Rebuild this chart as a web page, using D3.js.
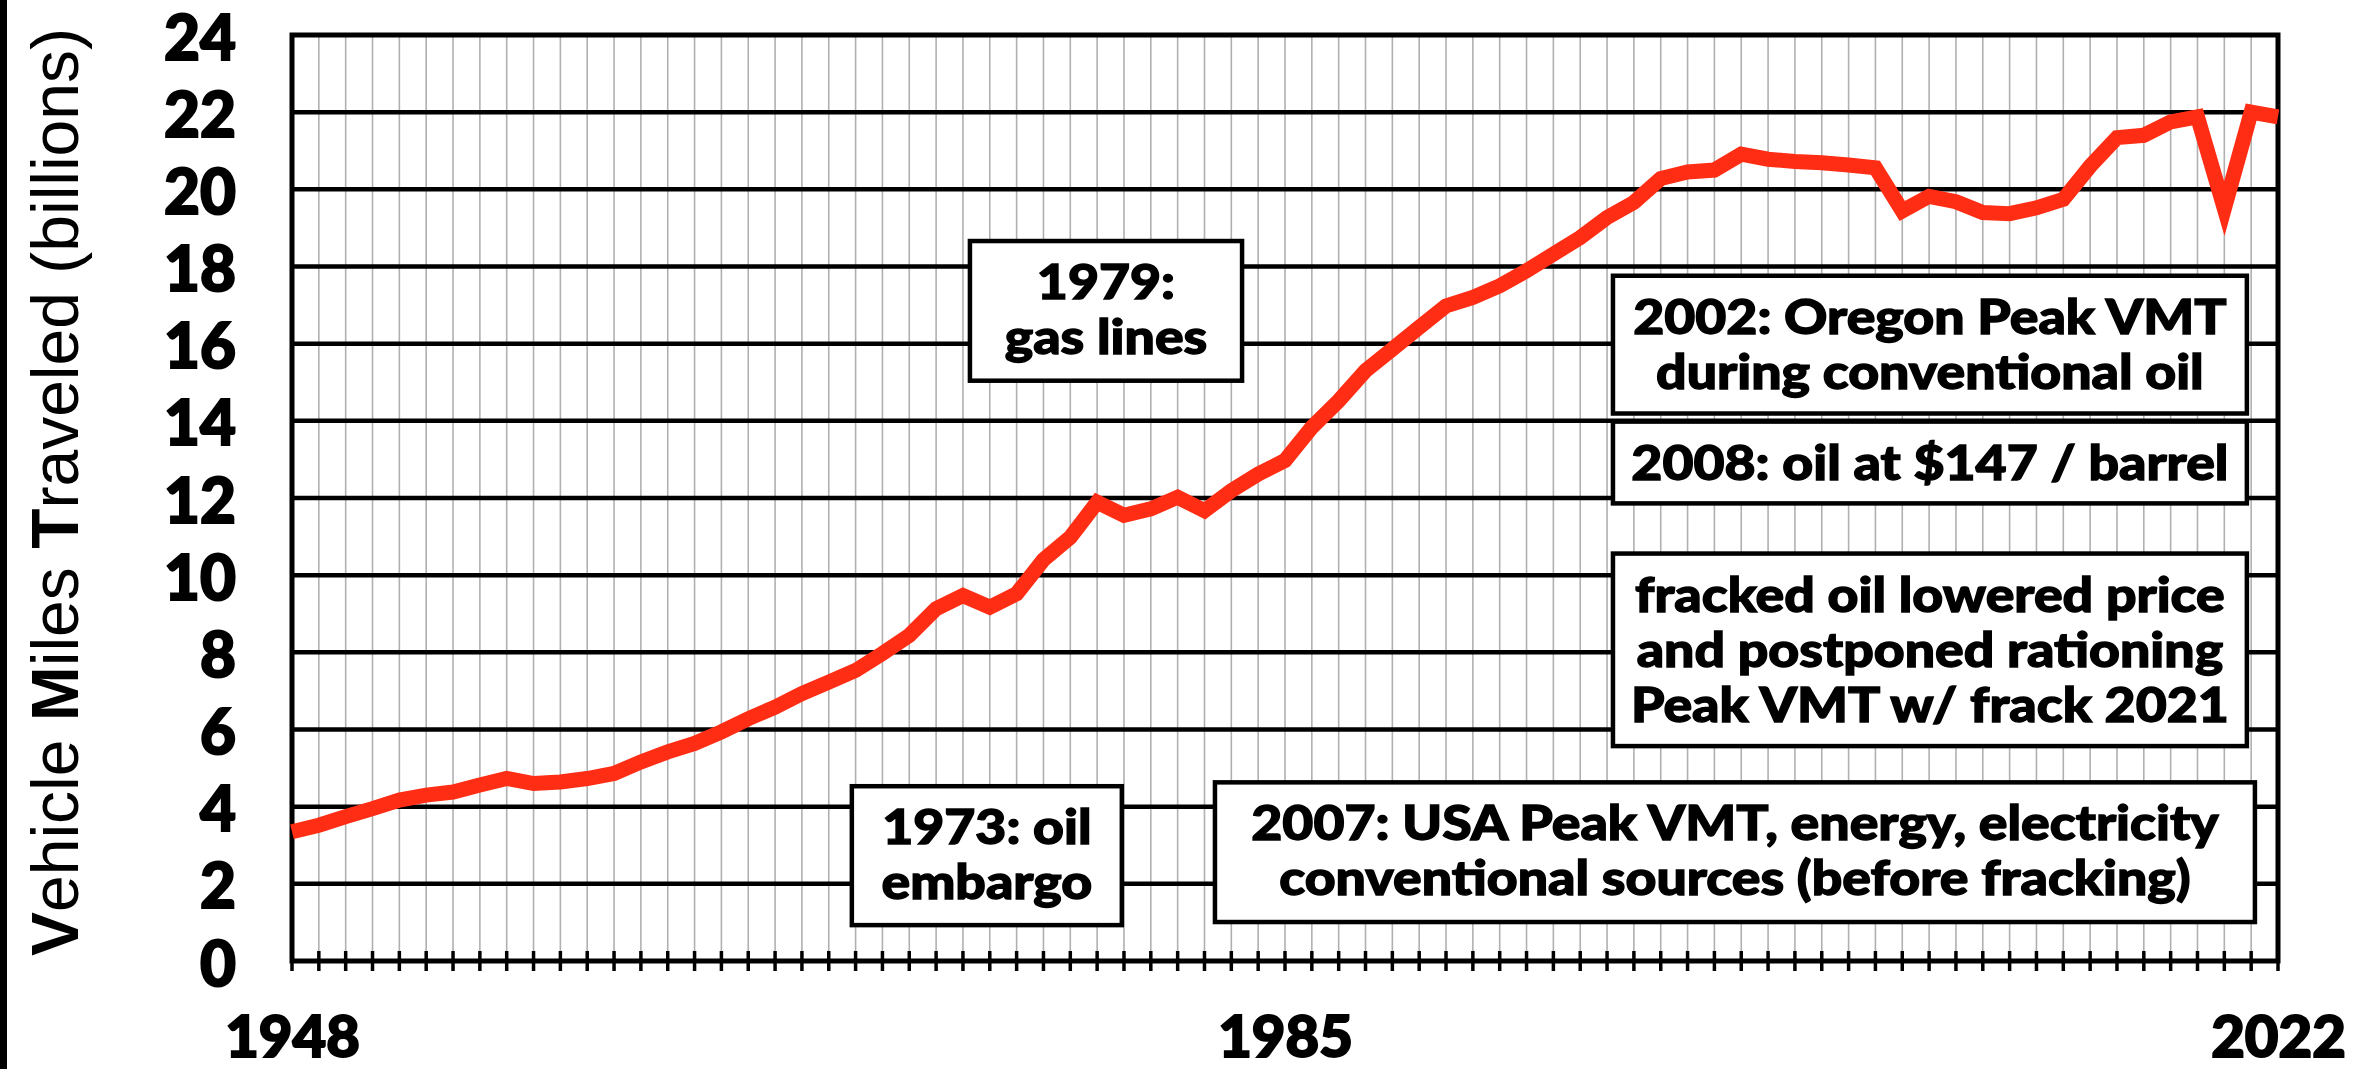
<!DOCTYPE html>
<html>
<head>
<meta charset="utf-8">
<script src="https://cdn.jsdelivr.net/npm/d3@7"></script>
<style>
  body { margin: 0; background: #fff; }
  svg { display: block; }
  .tick-label { font-family: Lato, "Open Sans", sans-serif; font-weight: 900; fill: #000; stroke: #000; stroke-width: 2px; }
  .note-text { font-family: Lato, "Open Sans", sans-serif; font-weight: 900; font-size: 47px; fill: #000; stroke: #000; stroke-width: 1.3px; }
  .y-title { font-family: "Liberation Sans", Arial, sans-serif; font-size: 66px; fill: #000; }
</style>
</head>
<body>
<div id="chart"></div>
<script>
// Oregon VMT in billions, one value per year 1948..2022
var years = d3.range(1948, 2023);
var vmt = [3.35, 3.52, 3.74, 3.95, 4.17, 4.30, 4.38, 4.56, 4.73, 4.60,
           4.64, 4.73, 4.86, 5.16, 5.42, 5.64, 5.94, 6.28, 6.58, 6.93,
           7.23, 7.53, 7.97, 8.44, 9.13, 9.47, 9.17, 9.52, 10.40, 10.98,
           11.89, 11.55, 11.72, 12.02, 11.67, 12.19, 12.62, 12.97, 13.83, 14.52,
           15.30, 15.86, 16.42, 16.98, 17.20, 17.50, 17.89, 18.32, 18.75, 19.27,
           19.66, 20.28, 20.45, 20.50, 20.91, 20.78, 20.72, 20.69, 20.63, 20.56,
           19.44, 19.82, 19.68, 19.40, 19.37, 19.52, 19.74, 20.60, 21.34, 21.40,
           21.75, 21.88, 19.50, 22.00, 21.88];

var yTicks = [0, 2, 4, 6, 8, 10, 12, 14, 16, 18, 20, 22, 24];
var xLabels = [1948, 1985, 2022];

var noteLines = [
  ["1979:", "gas lines"],
  ["2002: Oregon Peak VMT", "during conventional oil"],
  ["2008: oil at $147 / barrel"],
  ["fracked oil lowered price", "and postponed rationing", "Peak VMT w/ frack 2021"],
  ["1973: oil", "embargo"],
  ["2007: USA Peak VMT, energy, electricity", "conventional sources (before fracking)"]
];
// box extents in data units: [year0, year1, valueTop, valueBottom]
var noteBoxes = [
  [1973.26, 1983.40, 18.66, 15.04],
  [1997.22, 2020.84, 17.76, 14.19],
  [1997.22, 2020.84, 13.98, 11.86],
  [1997.22, 2020.84, 10.56, 5.57],
  [1968.86, 1978.92, 4.53, 0.93],
  [1982.39, 2021.14, 4.63, 1.01]
];

var margin = {top: 35, right: 78, bottom: 108, left: 292};
var width = 2356 - margin.left - margin.right;
var height = 1069 - margin.top - margin.bottom;

var svg = d3.select("#chart").append("svg")
  .attr("width", 2356)
  .attr("height", 1069);

// black strip at the left edge
svg.append("rect").attr("x", 0).attr("y", 0).attr("width", 7).attr("height", 1069).attr("fill", "#000");

var g = svg.append("g")
  .attr("transform", "translate(" + margin.left + "," + margin.top + ")");

var x = d3.scaleLinear().domain([1948, 2022]).range([0, width]);
var y = d3.scaleLinear().domain([0, 24]).range([height, 0]);

// yearly grey verticals
g.append("g").selectAll("line")
  .data(years.slice(1, -1))
  .join("line")
  .attr("x1", d => x(d)).attr("x2", d => x(d))
  .attr("y1", 0).attr("y2", height)
  .attr("stroke", "#b0b0b0")
  .attr("stroke-width", 1.6);

// black horizontals
g.append("g").selectAll("line")
  .data(yTicks.slice(1, -1))
  .join("line")
  .attr("x1", 0).attr("x2", width)
  .attr("y1", d => y(d)).attr("y2", d => y(d))
  .attr("stroke", "#000")
  .attr("stroke-width", 4.5);

// year ticks crossing the bottom axis
g.append("g").selectAll("line")
  .data(years)
  .join("line")
  .attr("x1", d => x(d)).attr("x2", d => x(d))
  .attr("y1", height - 10).attr("y2", height + 10)
  .attr("stroke", "#000")
  .attr("stroke-width", 3.5);

// frame
g.append("rect")
  .attr("x", 0).attr("y", 0)
  .attr("width", width).attr("height", height)
  .attr("fill", "none")
  .attr("stroke", "#000")
  .attr("stroke-width", 5);

// the series
var line = d3.line()
  .x((d, i) => x(years[i]))
  .y(d => y(d));

g.append("path")
  .datum(vmt)
  .attr("d", line)
  .attr("fill", "none")
  .attr("stroke", "#ff2d14")
  .attr("stroke-width", 15)
  .attr("stroke-linejoin", "miter")
  .attr("stroke-miterlimit", 10);

// annotation boxes
noteBoxes.forEach(function(b, i) {
  var x0 = x(b[0]), x1 = x(b[1]), y0 = y(b[2]), y1 = y(b[3]);
  g.append("rect")
    .attr("x", x0).attr("y", y0)
    .attr("width", x1 - x0).attr("height", y1 - y0)
    .attr("fill", "#fff")
    .attr("stroke", "#000")
    .attr("stroke-width", 4.5);
  // the original face is wider than Lato, so stretch a little
  var t = g.append("text")
    .attr("class", "note-text")
    .attr("text-anchor", "middle")
    .attr("transform", "translate(" + (x0 + x1) / 2 + ",0) scale(1.14,1)");
  noteLines[i].forEach(function(s, k) {
    t.append("tspan")
      .attr("x", 0)
      .attr("y", y0 + 58 + k * 55)
      .text(s);
  });
});

// axes: only the labels
var yAxis = g.append("g")
  .call(d3.axisLeft(y).tickValues(yTicks).tickSize(0).tickPadding(56));
yAxis.select(".domain").remove();
yAxis.selectAll("text")
  .attr("class", "tick-label")
  .attr("font-size", 62)
  .attr("dy", 24);

var xAxis = g.append("g")
  .attr("transform", "translate(0," + height + ")")
  .call(d3.axisBottom(x).tickValues(xLabels).tickFormat(d3.format("d")).tickSize(0));
xAxis.select(".domain").remove();
xAxis.selectAll("text")
  .attr("class", "tick-label")
  .attr("font-size", 58)
  .attr("y", 96)
  .attr("dy", 0);

// y title with bold initials
var title = svg.append("text")
  .attr("class", "y-title")
  .attr("text-anchor", "middle")
  .attr("transform", "translate(78,492) rotate(-90)");
[["V", true], ["ehicle ", false], ["M", true], ["iles ", false], ["T", true], ["raveled (billions)", false]]
  .forEach(function(p) {
    title.append("tspan").attr("font-weight", p[1] ? "bold" : "normal").text(p[0]);
  });
</script>
</body>
</html>
